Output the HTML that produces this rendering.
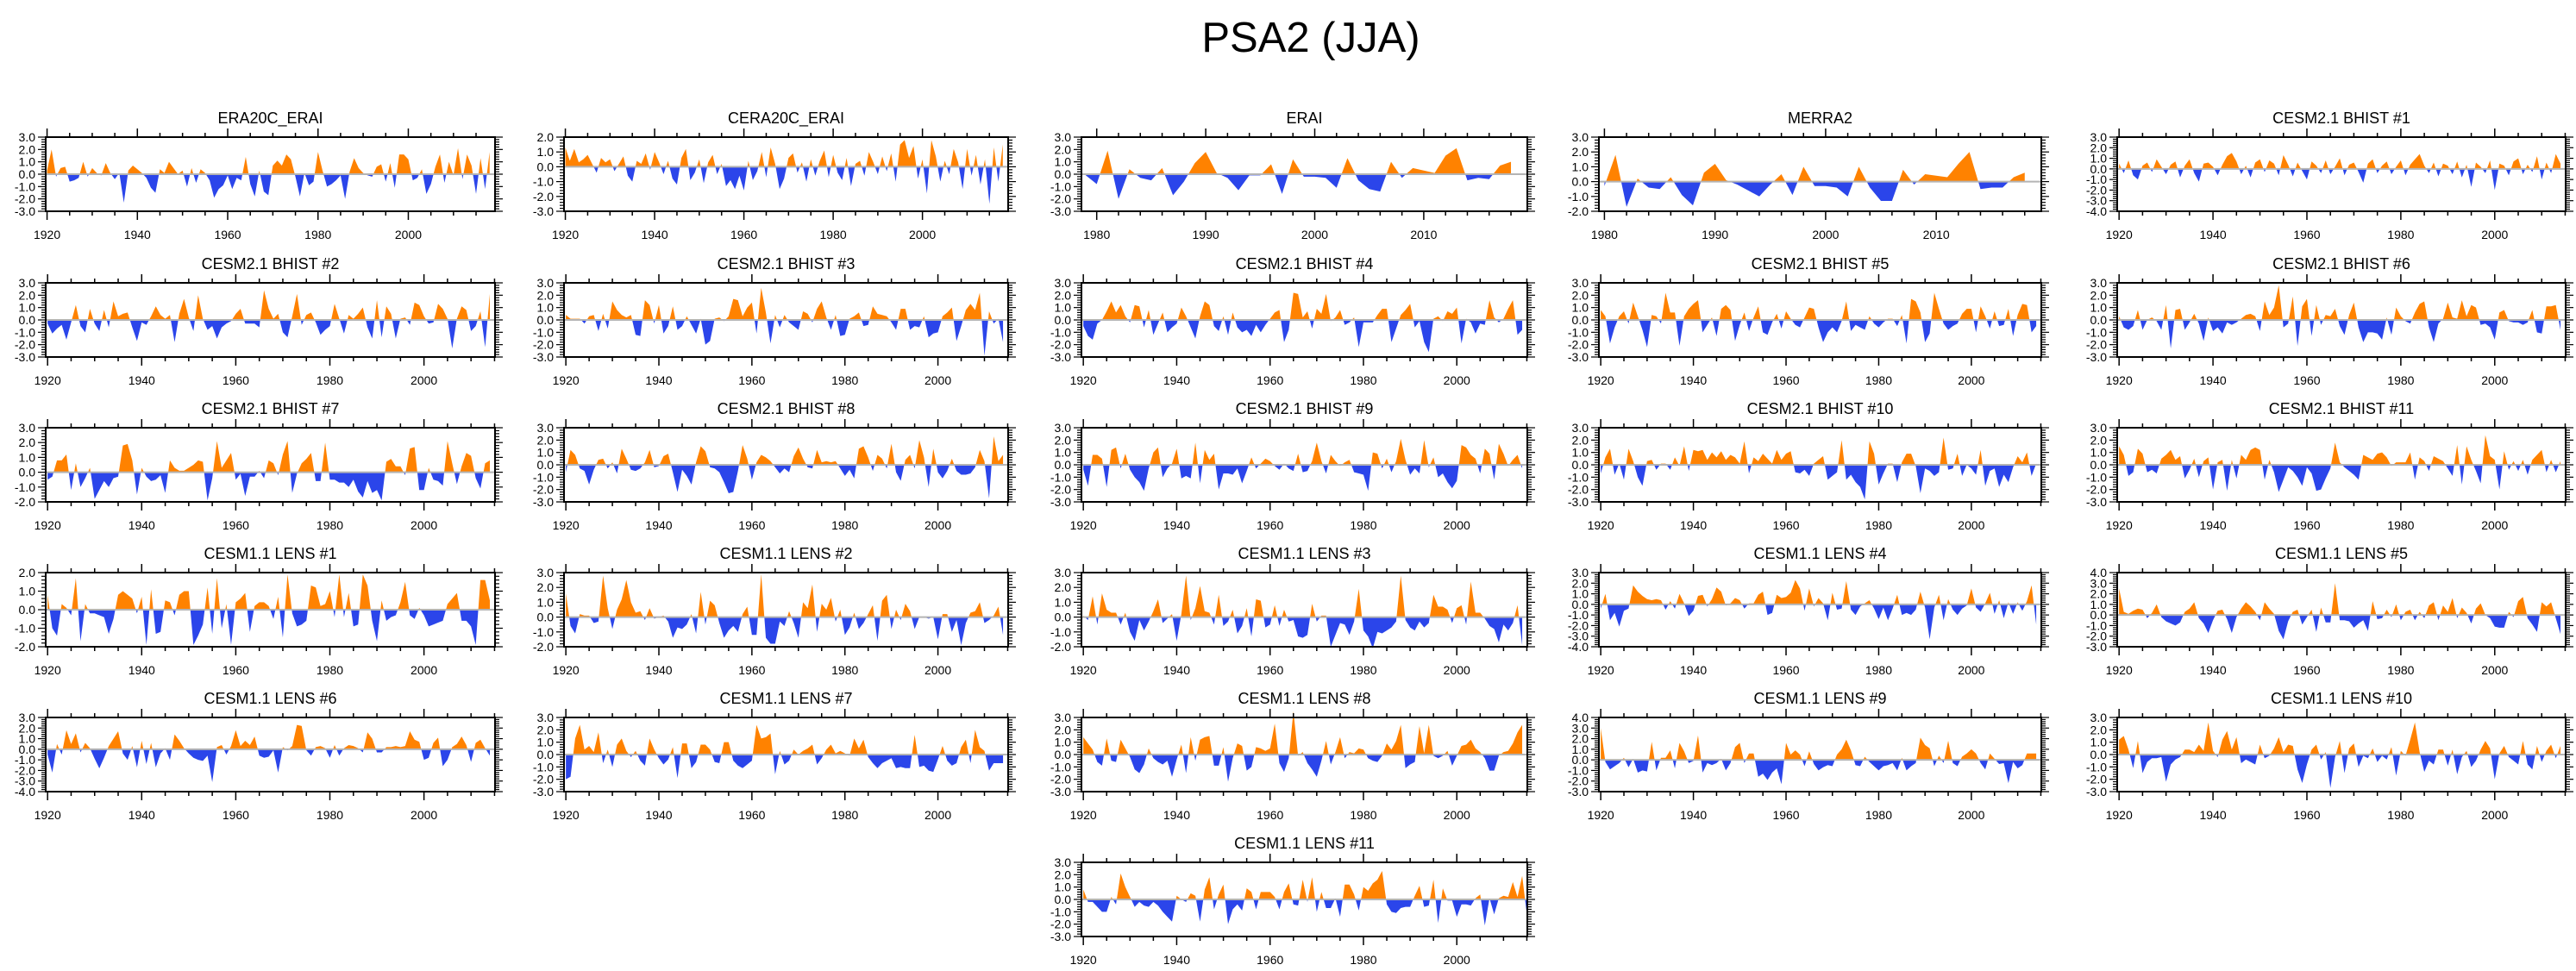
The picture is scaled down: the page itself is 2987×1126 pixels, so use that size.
<!DOCTYPE html>
<html><head><meta charset="utf-8"><title>PSA2 (JJA)</title>
<style>
html,body{margin:0;padding:0;background:#fff;}
svg{display:block;font-family:"Liberation Sans",Arial,sans-serif;}
</style></head>
<body>
<svg id="fig" width="2987" height="1126" viewBox="0 0 2987 1126" xmlns="http://www.w3.org/2000/svg">
<rect x="0" y="0" width="2987" height="1126" fill="#ffffff"/>
<text x="1520" y="60" font-size="49" text-anchor="middle" fill="#000">PSA2 (JJA)</text>
</svg>
<script>
// ---------- data ----------
const panelTitles = ["ERA20C_ERAI","CERA20C_ERAI","ERAI","MERRA2","CESM2.1 BHIST #1",
"CESM2.1 BHIST #2","CESM2.1 BHIST #3","CESM2.1 BHIST #4","CESM2.1 BHIST #5","CESM2.1 BHIST #6",
"CESM2.1 BHIST #7","CESM2.1 BHIST #8","CESM2.1 BHIST #9","CESM2.1 BHIST #10","CESM2.1 BHIST #11",
"CESM1.1 LENS #1","CESM1.1 LENS #2","CESM1.1 LENS #3","CESM1.1 LENS #4","CESM1.1 LENS #5",
"CESM1.1 LENS #6","CESM1.1 LENS #7","CESM1.1 LENS #8","CESM1.1 LENS #9","CESM1.1 LENS #10",
"CESM1.1 LENS #11"];
const startYears = [1920,1920,1979,1980,1920, 1920,1920,1920,1920,1920, 1920,1920,1920,1920,1920, 1920,1920,1920,1920,1920, 1920,1920,1920,1920,1920, 1920];
const yMins = [-3,-3,-3,-2,-4, -3,-3,-3,-3,-3, -2,-3,-3,-3,-3, -2,-2,-2,-4,-3, -4,-3,-3,-3,-3, -3];
const yMaxs = [3,2,3,3,3, 3,3,3,3,3, 3,3,3,3,3, 2,3,3,3,4, 3,3,3,4,3, 3];
const xMins = [1919.7,1919.7,1978.6,1979.5,1919.6, 1919.6,1919.6,1919.6,1919.6,1919.6, 1919.6,1919.6,1919.6,1919.6,1919.6, 1919.6,1919.6,1919.6,1919.6,1919.6, 1919.6,1919.6,1919.6,1919.6,1919.6, 1919.6];
const xMaxs = [2019.2,2019.2,2019.5,2019.5,2015.1, 2015.1,2015.1,2015.1,2015.1,2015.1, 2015.1,2015.1,2015.1,2015.1,2015.1, 2015.1,2015.1,2015.1,2015.1,2015.1, 2015.1,2015.1,2015.1,2015.1,2015.1, 2015.1];

const era20c = [0.3,2.0,-0.2,0.5,0.6,-0.6,-0.5,-0.3,1.0,-0.2, 0.5,0.1,-0.1,0.9,0.1,-0.4,0.1,-2.3,0.3,0.7, 0.4,0.1,-0.3,-1.1,-1.5,0.4,0.1,1.0,0.5,0.0, 0.3,-1.0,0.5,-0.7,0.4,0.1,-0.5,-1.9,-1.2,-0.9, -0.1,-1.2,-0.3,-0.5,1.4,-0.8,-1.8,0.3,-1.4,-1.7, 0.7,1.1,0.7,1.6,1.2,-0.2,-1.8,0.1,-0.9,-0.6, 1.8,0.3,-1.0,-0.8,-0.5,-0.1,-2.0,0.2,1.3,0.5, 0.1,-0.1,-0.2,0.6,0.8,-0.6,0.9,-1.1,1.6,1.6, 1.2,-0.5,-0.3,0.4,-1.6,-0.8,0.6,1.6,-0.7,1.0, -0.1,2.1,-0.4,1.6,0.7,-1.6,1.3,-1.2,1.8];
const cera20c = [1.3,0.4,1.2,0.3,0.5,0.8,0.2,-0.4,0.6,0.3, 0.5,-0.3,0.2,0.7,-0.6,-1.0,0.4,0.2,0.9,-0.2, 1.0,0.3,-0.5,0.4,-0.8,-1.2,0.6,1.2,-0.9,-0.4, 0.5,-1.1,0.3,0.8,-0.5,0.2,-1.3,-0.9,-1.5,-0.6, -1.6,0.4,-0.9,-0.3,1.0,-0.7,1.3,0.2,-1.5,-0.8, 0.6,0.9,-0.4,0.3,-1.0,0.5,-0.6,0.4,1.1,-0.7, 0.8,-0.4,-0.9,0.6,-1.3,0.2,0.4,-0.6,1.0,0.3, -0.5,0.7,-0.3,0.9,-1.0,1.5,1.8,0.6,1.4,-0.8, 0.5,-1.8,1.8,0.7,-1.0,0.4,-0.5,1.2,0.3,-1.5, 1.2,-0.6,0.8,-1.2,0.5,-2.5,1.3,-1.0,1.5];
const erai = [-0.1,-0.8,1.9,-2.0,0.4,-0.3,-0.5,0.5,-1.7,-0.6, 0.9,1.8,0.1,-0.3,-1.3,-0.1,-0.1,0.8,-1.6,1.2, -0.2,-0.2,-0.3,-1.1,1.3,-0.5,-1.2,-1.4,1.0,-0.3, 0.5,0.3,0.1,1.5,2.1,-0.5,-0.3,-0.4,0.7,1.0];
const merra2 = [-0.3,1.8,-1.7,0.2,-0.4,-0.5,0.3,-0.9,-1.6,0.6, 1.2,0.1,-0.2,-0.6,-1.0,-0.2,0.5,-0.9,1.0,-0.3, -0.3,-0.4,-1.0,1.0,-0.4,-1.3,-1.3,0.8,-0.2,0.5, 0.4,0.3,1.2,2.0,-0.5,-0.4,-0.4,0.3,0.6];
const bhist1 = [0.5,-0.4,0.8,-0.6,-1.0,0.3,0.6,-0.3,0.9,0.2, -0.5,0.4,0.7,-0.8,0.3,0.9,-0.4,-1.2,0.5,0.6, 0.2,-0.6,0.4,1.2,1.5,0.7,-0.5,0.3,-0.8,0.6, 0.9,-0.3,0.8,0.5,-0.6,1.3,0.4,-0.7,0.6,-0.2, -1.0,0.7,0.3,-0.4,0.8,-0.5,0.2,1.0,-0.6,0.4, 0.6,-0.3,-1.3,0.5,0.9,-0.4,0.3,0.7,-0.5,0.2, 0.8,-0.6,0.4,0.9,1.4,0.3,-0.4,0.6,-0.7,0.5, 0.3,-0.5,0.7,-0.8,0.4,-1.7,0.6,0.2,-0.4,0.8, -2.0,0.5,0.3,-0.6,0.7,1.0,-0.5,0.4,-0.3,1.2, -1.0,0.6,-0.4,1.4,0.5];
const bhist2 = [-0.3,-1.1,-0.7,-0.4,-1.6,-0.2,1.2,-0.5,-1.0,0.9, -0.3,-0.9,0.8,-0.6,1.5,0.3,0.5,0.6,-0.6,-1.7, -0.2,-0.4,0.3,1.1,0.4,0.1,0.4,-1.8,0.5,1.7, 0.2,-0.9,2.0,0.1,-0.8,-0.5,-1.5,-0.6,-0.3,-0.1, 0.5,0.9,-0.3,-0.3,-0.3,-0.6,2.4,0.9,0.1,0.5, -1.0,-1.4,0.3,2.1,-0.4,0.4,0.6,-0.2,-1.2,-0.8, -0.5,1.3,0.1,-1.1,0.4,0.1,0.5,1.0,-0.6,-1.5, 1.6,-1.4,1.1,0.5,-1.5,0.1,0.2,-0.4,1.4,1.2, 0.3,-0.3,-0.2,1.3,0.9,0.1,-2.3,0.1,1.1,0.8, -0.9,-0.5,0.7,-2.2,2.1];
const bhist3 = [0.4,0.1,0.1,0.1,-0.3,0.3,0.4,-0.9,0.5,-0.7, 1.5,0.8,0.4,0.2,0.4,-1.2,-1.3,1.6,1.2,-0.3, 1.2,-1.1,-0.5,1.1,-0.8,-0.5,0.3,-0.4,-1.1,0.1, -2.0,-1.7,0.1,0.2,-0.1,0.3,1.7,1.6,0.3,1.0, 1.4,-1.1,2.6,0.6,-1.9,0.4,-0.6,0.4,-0.2,-0.5, -0.8,0.7,0.5,-0.2,0.9,1.5,0.2,-0.8,0.4,-1.3, -1.2,0.1,0.3,0.6,-0.5,-0.4,1.1,0.5,0.4,0.3, -0.2,-0.8,0.9,0.9,-0.8,-0.5,-0.6,0.3,-1.4,-1.1, -1.0,0.3,0.6,1.0,-1.7,-0.5,0.8,1.3,0.8,2.2, -2.9,0.7,-0.3,0.1,-1.8];
const bhist4 = [-0.5,-1.3,-1.6,-0.3,0.0,0.7,1.5,0.6,1.2,0.3, -0.2,1.2,1.1,-0.6,0.8,-1.2,-0.3,0.6,-1.0,-0.6, -0.3,1.0,0.3,-0.6,-1.5,0.3,1.5,1.2,-0.5,-0.9, 0.3,-1.2,0.6,-0.6,-1.0,-0.8,-1.3,-0.4,-1.0,-0.4, 0.1,0.6,0.8,-1.8,-0.8,2.2,2.1,0.2,0.7,-0.7, 0.9,0.5,2.1,-0.1,0.2,0.8,-0.4,-0.2,0.2,-2.2, -0.2,-0.2,-0.2,0.4,0.9,0.9,-1.8,-0.7,0.4,0.8, 1.3,-0.6,-0.1,-1.8,-2.6,0.1,0.3,-0.1,0.7,0.5, 1.0,-1.9,0.1,-0.2,-1.1,-0.3,-0.4,1.6,0.2,-0.2, 0.1,0.9,1.6,-1.2,-0.8];
const bhist5 = [0.8,0.3,-1.9,-0.6,0.3,0.7,-0.3,1.4,0.3,-0.8, -2.2,0.4,0.3,-0.3,2.2,0.6,0.6,-2.1,0.3,0.9, 1.3,1.6,-1.0,-0.4,0.2,-1.3,0.9,1.2,0.8,-1.7, -0.4,0.6,-0.9,0.2,1.1,-1.0,-1.2,-0.2,0.5,-0.7, 0.7,0.1,-0.4,-0.6,0.2,1.0,0.9,-0.6,-1.8,-1.0, -0.6,-1.0,-0.1,1.5,-0.9,-0.4,-0.6,-0.8,0.3,-0.3, -0.6,-0.2,0.1,0.1,-0.5,0.4,-1.9,1.7,1.5,0.6, -1.8,-1.1,2.2,0.9,-0.3,-0.8,-0.5,-0.3,0.5,0.9, 0.9,-1.0,1.1,0.3,-0.7,0.7,-0.5,-0.4,0.9,-1.3, 0.4,1.3,1.2,-1.0,-0.5];
const bhist6 = [0.3,-0.6,-0.8,-0.5,0.8,-0.8,0.0,0.2,-0.1,-0.8, 1.2,-2.3,0.8,0.9,-0.8,-0.2,0.5,-0.3,-1.7,0.2, -0.9,-0.6,-1.1,-0.2,-0.4,-0.2,0.1,0.4,0.5,0.3, -0.9,1.5,0.4,1.0,2.8,-0.6,-0.3,1.9,-2.1,1.1, 1.7,-1.3,1.2,-0.4,0.4,0.3,0.9,-0.5,-1.2,0.4, 1.4,-0.6,-1.8,-1.0,-1.0,-1.1,-1.6,0.2,-1.2,1.0, 0.3,-0.1,-0.3,0.6,1.3,1.5,-0.6,-1.8,-0.3,0.1, 1.4,0.2,0.1,1.6,0.3,1.2,1.0,-0.4,-0.3,-0.6, -1.6,0.6,0.8,-0.1,-0.2,-0.2,-0.4,-0.2,0.8,-1.0, -1.1,1.1,1.1,1.2,-0.8];
const bhist7 = [-0.5,-0.3,0.8,0.8,1.2,-1.2,0.6,-1.0,-0.4,0.3, -1.8,-1.2,-0.6,-1.0,-0.4,-0.3,1.8,1.9,0.8,-1.5, 0.3,-0.3,-0.6,-0.5,-0.2,-1.4,0.8,0.3,0.1,0.1, 0.3,0.5,0.8,0.7,-1.9,-0.4,2.1,0.3,0.8,1.3, -0.5,-0.1,-1.6,-0.3,-0.3,0.1,-0.4,0.8,0.6,-0.2, 1.2,2.1,-1.4,-0.1,0.6,0.9,1.3,-0.6,-0.6,2.0, -0.5,-0.5,-0.7,-0.7,-1.0,-0.5,-1.3,-1.7,-0.6,-1.4, -1.2,-1.9,0.7,0.9,0.4,0.4,-0.2,1.6,1.7,-1.2, -1.2,0.3,-0.5,-0.6,-0.9,2.1,0.6,-0.8,0.4,1.3, 1.1,-0.4,-1.1,0.6,0.8];
const bhist8 = [-0.6,1.2,0.8,-0.3,-0.5,-1.6,-0.4,0.4,0.5,-0.3, 0.2,-0.7,1.3,0.5,-0.4,-0.5,-0.3,0.2,1.2,-0.2, -0.1,0.7,0.9,-0.6,-2.2,-0.4,-0.9,-1.6,0.2,1.5, 1.1,-0.2,-0.3,-0.6,-1.4,-2.3,-2.2,-0.5,1.6,0.5, -1.2,0.2,0.8,0.6,0.3,-0.2,-0.7,-0.3,-0.6,0.7, 1.4,0.5,-0.2,-0.3,1.2,0.2,0.3,0.2,0.3,-0.3, -0.9,-0.4,-1.1,1.3,1.5,0.6,-0.5,0.8,0.5,-0.3, 1.7,-0.6,-1.3,0.4,0.8,-0.3,2.0,0.6,-1.8,1.3, -0.6,-1.1,-0.5,0.5,-0.5,-0.8,-0.8,-0.7,-0.2,1.2, 0.3,-2.7,2.3,0.3,0.8];
const bhist9 = [-0.4,-1.7,0.8,0.8,0.5,-1.8,1.2,1.4,-0.3,0.9, -0.4,-1.0,-1.4,-2.1,-0.3,1.0,1.4,-1.0,-0.3,0.1, 1.3,-1.1,-0.9,-1.1,1.8,-1.5,1.2,0.4,0.9,-2.0, -0.7,-0.7,-0.8,-0.3,-1.5,-0.5,0.6,-0.3,0.1,0.5, 0.3,-0.1,-0.4,0.1,-0.3,-0.5,0.9,-0.6,-0.5,0.3, 1.8,0.3,-0.7,0.8,0.3,-0.1,0.2,0.4,-0.6,-0.7, -0.8,-2.1,1.0,0.9,-0.3,0.5,-0.6,0.3,2.1,0.4, -0.8,-0.3,-0.7,2.0,-0.2,0.6,-1.0,-0.7,-1.4,-1.9, -1.3,1.6,1.4,0.8,0.5,-0.7,1.3,0.9,-1.2,1.7, 0.9,-0.1,0.4,0.8,-0.3];
const bhist10 = [-0.7,0.6,1.3,-0.8,0.1,-1.2,1.3,0.3,-1.0,-1.7, 0.3,0.4,-0.4,0.1,0.1,-0.4,0.6,-0.1,1.5,-0.5, 1.2,1.1,1.2,0.4,1.0,0.6,1.1,0.4,0.8,0.6, 0.1,1.9,-0.7,0.6,0.3,0.9,0.5,0.1,1.2,0.4, 0.9,1.1,-0.6,-0.7,-0.4,-0.9,0.1,0.4,0.7,-1.2, -0.9,-0.6,2.0,-1.2,-0.8,-1.4,-1.8,-2.8,1.9,0.9, -1.6,-0.7,0.1,0.1,-1.4,0.2,0.9,0.9,-0.1,-2.3, -0.3,-0.5,-0.9,-0.6,2.2,-0.4,-0.3,0.9,-0.9,0.0, -0.3,-0.8,1.2,-1.7,-0.5,-0.3,-1.8,-0.8,-1.4,-0.2, 0.7,0.2,1.0,-0.9,0.1];
const bhist11 = [1.5,0.8,-0.9,-0.6,1.3,0.9,-0.6,-0.4,-0.7,0.5, 0.8,1.2,0.4,0.7,-1.1,-0.4,0.5,-1.0,0.3,0.6, -2.0,0.2,0.4,-2.1,0.4,-1.1,0.8,0.4,1.2,1.4, 1.2,-1.2,0.4,-0.6,-2.2,-1.2,-0.2,-0.5,-1.0,-1.7, -0.2,-0.7,-2.1,-2.0,-1.1,-0.3,1.8,0.2,-0.2,-0.5, -0.8,-1.2,0.8,0.6,0.4,0.9,1.0,0.6,-0.1,0.2, 0.2,0.2,1.0,-1.2,0.6,0.3,-0.5,0.7,0.5,0.3, -0.3,-0.9,1.6,-1.6,1.5,0.4,-0.5,-1.5,2.4,0.7, 0.4,-2.0,1.1,-0.4,0.3,-0.5,0.4,-0.8,0.4,0.8, 1.2,-0.6,0.4,-0.6,0.3];
const lens1 = [0.8,-1.0,-1.4,0.3,0.1,-0.3,1.7,-1.7,0.3,-0.2, -0.2,-0.3,-0.4,-1.3,-0.5,0.8,1.0,0.8,0.6,-0.2, 0.7,-1.9,1.1,-1.3,-1.2,0.5,0.4,-0.3,0.8,1.0, 1.0,-1.9,-1.4,-0.8,1.2,-1.3,1.7,-1.0,0.3,-1.9, 0.4,0.6,0.9,-1.2,0.2,0.4,0.4,0.2,-0.5,0.7, -1.5,1.9,-0.2,-0.9,-0.8,-0.6,1.3,1.2,0.2,0.3, 1.0,-0.4,1.9,-0.4,0.9,-0.9,-0.8,1.9,1.3,-0.6, -1.7,0.5,-0.6,-0.4,-0.3,0.4,1.5,-0.3,-0.5,0.1, -0.3,-0.9,-0.8,-0.7,-0.6,0.3,0.6,0.9,-0.6,-0.6, -0.9,-1.9,1.6,1.6,0.5];
const lens2 = [1.6,-0.6,-1.1,0.2,0.1,0.1,-0.4,-0.3,2.8,0.6, -0.8,0.5,1.2,2.5,1.0,0.3,0.4,-0.2,0.6,-0.1, 0.0,0.1,-0.3,-1.4,-0.7,-0.8,-0.5,0.2,-1.1,1.7, -0.5,1.1,0.8,-0.4,-1.4,-0.9,-0.6,-1.0,0.2,0.7, -1.2,-1.2,2.9,-1.4,-1.8,-1.8,-0.3,-0.6,0.4,-0.4, -1.4,1.0,0.6,2.2,-1.0,0.9,0.5,1.3,-0.3,0.5, -1.2,-0.7,0.3,-0.8,-0.4,0.2,0.8,-1.6,1.1,1.5, -0.8,0.5,-0.2,0.9,0.4,-0.8,0.0,0.0,-0.1,0.0, -1.5,0.2,0.2,-1.0,-0.2,-1.9,-0.4,0.3,0.4,1.0, -0.4,-0.2,0.1,0.7,-1.2];
const lens3 = [0.1,-0.2,1.4,-0.5,1.6,0.5,0.3,0.3,-0.5,0.3, -1.0,-1.6,-0.2,-0.9,-0.3,0.4,1.2,-0.4,-0.1,0.2, -1.6,0.2,2.8,-0.2,0.6,2.1,0.4,0.3,-0.5,1.5, -0.6,-0.3,0.5,-1.1,-0.6,0.6,-1.3,1.2,1.1,-0.7, -0.5,0.8,-0.6,0.5,-0.3,-0.2,-1.3,-1.4,-1.2,0.9, -0.3,0.1,0.1,-2.0,-1.2,-0.4,-0.5,-1.2,-0.3,1.9, -0.9,-1.3,-2.1,-1.0,-1.1,-0.9,-0.7,-0.3,2.8,-0.2, -0.7,-0.9,-0.3,-0.7,-0.4,1.5,0.7,0.7,0.5,-0.4, 0.6,0.8,-0.5,2.4,0.3,0.3,-0.1,-0.6,-0.8,-1.7, -0.5,-0.9,-0.4,0.8,-1.9];
const lens4 = [-0.4,1.0,-1.5,-0.8,-2.1,-0.6,-0.4,1.8,1.2,0.8, 0.5,0.4,0.5,0.4,-0.5,0.3,-0.4,1.0,0.1,-1.1, -0.6,0.8,0.9,-0.2,0.5,1.6,1.2,-0.1,0.1,0.6, 0.4,-0.4,0.1,0.1,0.9,1.2,-1.0,-0.8,0.9,0.6, 0.7,1.1,2.3,1.5,-0.6,1.5,-0.2,0.6,0.1,-1.5, 1.1,-0.5,-0.4,2.2,-0.5,-1.0,-0.2,0.1,0.4,-0.4, -1.4,-0.3,-1.5,-0.4,0.9,-1.0,-0.8,-1.0,-0.5,1.2, -0.3,-3.3,-0.3,0.9,-1.5,0.5,-0.5,-1.0,-0.4,-0.1, 1.5,-0.3,-0.7,0.1,1.1,-0.9,0.4,-1.3,0.2,-0.9, 0.2,-0.6,0.3,1.8,-1.9];
const lens5 = [2.5,0.3,0.1,0.4,0.6,0.5,-0.3,0.2,1.0,-0.2, -0.6,-0.8,-1.0,-0.7,0.3,0.6,1.2,-0.3,-0.8,-1.7, -0.5,0.4,0.5,-0.4,-1.7,-0.2,0.6,1.2,0.8,0.3, -0.5,1.2,0.6,0.1,-1.5,-2.3,-0.6,0.3,0.5,-0.9, -0.2,0.5,-1.6,0.7,-0.7,-0.7,3.0,-0.5,-0.5,-0.6, -1.2,-0.8,-0.5,-1.5,1.3,-0.4,-0.3,0.5,-0.2,1.0, -0.5,0.3,0.5,-0.5,0.3,-0.3,0.9,1.2,-0.5,0.9, 0.3,1.6,-0.3,0.7,0.2,-0.8,0.6,1.1,0.0,-0.3, -1.1,-1.2,-1.2,0.3,-0.2,1.3,1.7,-0.3,-0.9,-1.6, 1.2,0.8,1.2,-0.3,-1.8];
const lens6 = [-0.5,-2.2,0.5,-0.5,1.8,0.5,1.5,-0.3,0.6,0.1, -0.9,-1.8,-0.8,0.3,1.0,1.7,-0.4,-1.0,0.3,-1.7, 0.8,-1.4,0.6,-1.7,-0.4,0.1,-1.0,1.4,0.8,0.1, -0.4,-0.8,-1.0,-1.1,-0.6,-3.1,0.2,0.4,-0.5,0.3, 1.8,0.3,0.8,0.4,1.2,-0.6,-0.8,-0.7,-0.1,-2.2, 0.2,-0.1,0.3,2.3,2.2,-0.1,-0.6,0.2,0.3,0.1, -0.8,0.4,-0.6,0.1,0.4,0.3,0.1,-0.3,1.6,1.0, -0.3,-0.3,0.2,0.2,0.3,0.2,0.3,1.7,0.9,0.7, -1.0,-0.8,0.6,1.1,-1.6,-1.0,0.2,0.5,1.2,0.4, -1.2,0.6,0.9,0.1,-0.6];
const lens7 = [-2.0,-1.8,1.3,2.4,0.4,0.7,0.2,1.8,-0.7,0.4, -1.0,0.8,1.3,0.3,-0.2,0.3,-0.5,-0.9,1.3,0.4, -0.3,-0.8,-0.4,0.6,-1.9,0.9,0.9,-1.1,-0.6,0.8, 0.8,0.4,-0.6,-0.7,1.0,1.0,-0.5,-0.9,-1.1,-0.8, -0.5,2.4,1.3,1.4,1.7,-1.6,0.3,-0.8,-0.5,0.4, 0.0,0.3,0.5,0.8,-0.8,-0.3,0.4,0.8,0.1,0.3, 0.1,-0.1,1.3,0.5,1.2,-0.2,-0.7,-1.1,-0.7,-0.5, -0.3,-1.1,-1.0,-1.1,-1.1,1.6,-1.0,-0.9,-1.3,-1.4, -0.4,0.7,-0.5,-0.9,-0.7,0.6,1.2,-0.7,2.0,0.6, 0.3,-1.3,-0.7,-0.7,-0.7];
const lens8 = [1.4,0.9,0.4,-0.6,-0.9,1.3,-0.5,-0.6,1.2,0.5, -0.2,-1.2,-1.5,-0.8,0.5,-0.3,-0.6,-0.8,-0.5,-1.8, -0.4,0.8,-1.5,1.4,-0.5,1.2,1.4,1.5,-0.9,-0.9, 0.6,-2.2,-0.3,0.9,0.7,-1.3,-1.0,0.6,0.5,0.3, 0.5,2.5,-0.7,-1.4,-0.3,3.5,-0.1,0.2,-0.7,-1.2, -1.8,-0.5,1.1,-0.8,0.2,1.4,-0.3,0.2,0.1,0.5, 0.4,-0.3,-0.5,-0.6,-0.1,0.9,0.4,1.1,2.4,-1.1, -0.8,-0.6,2.3,0.1,2.4,-0.1,-0.3,-0.1,0.3,-0.9, -0.1,0.7,0.8,1.2,0.5,0.2,-0.3,-1.3,-1.3,-0.1, 0.2,0.3,0.9,1.8,2.4];
const lens9 = [3.0,-0.2,-0.9,-0.6,-0.3,0.2,-0.7,0.1,-1.2,-1.0, -1.1,1.7,-1.0,0.2,0.2,0.9,-0.8,1.6,0.8,-0.3, -0.1,2.3,-1.2,-0.3,-0.5,-0.3,0.1,-1.0,-0.3,1.2, 1.6,-0.3,0.6,0.6,-1.6,-1.3,-1.9,-1.2,-0.8,-2.3, 1.6,0.5,0.9,0.5,-0.6,0.8,-0.4,-1.0,-0.7,-0.5, -0.6,0.5,1.0,1.9,0.9,-0.5,-0.6,0.3,-0.2,-0.6, -1.0,-0.6,-0.5,-0.3,-1.0,0.2,-1.0,-0.6,-0.3,2.1, 1.4,1.1,-0.6,0.4,-0.3,1.8,-0.3,-0.6,0.3,0.6, 1.0,0.6,-0.3,-0.9,0.6,0.1,-0.4,-0.3,-2.2,-0.2, -0.8,-0.5,0.6,0.6,0.6];
const lens10 = [1.2,1.5,0.4,-1.1,1.1,-1.5,-0.6,-0.3,-0.3,-0.2, -2.2,-0.8,-0.4,-0.2,0.4,0.4,0.2,0.8,0.3,2.6, 0.3,-0.2,1.2,1.9,0.4,1.4,-0.7,-0.4,-0.6,-0.8, 0.8,-0.3,-0.1,0.5,1.4,0.2,0.8,0.7,-1.2,-2.3, -0.8,0.4,0.8,-0.4,0.2,-2.7,-0.2,1.1,-1.5,0.5, 0.9,-1.0,-0.1,-0.3,0.5,-0.6,-0.1,-0.4,0.6,-1.7, 0.3,-0.1,1.2,2.6,0.2,-1.4,-0.5,-0.8,0.4,0.4, -0.9,0.4,-1.6,-0.2,0.3,-1.0,-0.5,0.4,1.1,0.5, -2.0,0.1,0.7,-0.2,-0.5,-0.8,1.1,-0.8,-1.2,0.7, -0.6,0.3,0.8,-0.3,0.7];
const lens11 = [0.8,-0.2,-0.2,-0.6,-1.0,-1.0,0.2,-0.4,2.1,1.0, 0.2,-0.6,-0.2,-0.5,-0.6,-0.2,-0.5,-1.0,-1.4,-1.8, 0.3,0.0,-0.2,0.5,0.3,-1.8,0.8,1.8,-0.8,0.4, 1.2,-2.0,-0.8,-0.4,-0.9,0.9,0.6,-0.8,0.6,0.6, 0.6,0.2,-0.8,0.6,1.3,-0.4,-0.5,1.6,-0.2,1.8, -1.0,0.6,-0.7,-0.7,0.1,-1.4,1.2,1.2,0.4,-0.9, 1.0,0.7,1.3,1.6,2.3,-0.4,-1.0,-1.1,-0.7,-0.6, -0.6,0.3,1.1,-0.6,-0.5,1.6,-1.9,0.9,-0.1,-0.1, -1.4,-0.4,-0.4,-0.5,0.1,0.4,-2.1,0.1,-1.2,0.1, 0.3,0.2,1.4,0.2,1.9,-1.2];

const seriesList = [era20c,cera20c,erai,merra2,bhist1, bhist2,bhist3,bhist4,bhist5,bhist6, bhist7,bhist8,bhist9,bhist10,bhist11, lens1,lens2,lens3,lens4,lens5, lens6,lens7,lens8,lens9,lens10, lens11];

// ---------- layout ----------
const colLeft = [53,654,1254,1854,2455];
const colRight = [574,1169,1771,2367,2975];
const rowTop = [159,328,496,664,832,1000];
const boxH = 86;
const POS = "#ff8200", NEG = "#2b45ea";

const NS = "http://www.w3.org/2000/svg";
const svg = document.getElementById("fig");
function mk(tag, attrs, parent){
  const e = document.createElementNS(NS, tag);
  for (const k in attrs) e.setAttribute(k, attrs[k]);
  parent.appendChild(e);
  return e;
}
function slug(s){ return s.toLowerCase().replace(/[^a-z0-9]+/g,'-').replace(/^-|-$/g,''); }
function fmt(v){ return (v<0?"-":"") + Math.abs(v).toFixed(1); }

for (let p = 0; p < panelTitles.length; p++) {
  const row = p < 25 ? Math.floor(p/5) : 5;
  const col = p < 25 ? p % 5 : 2;
  const L = colLeft[col], R = colRight[col], T = rowTop[row], B = T + boxH;
  const xlo = xMins[p], xhi = xMaxs[p], ylo = yMins[p], yhi = yMaxs[p];
  const xs = v => L + (v - xlo) / (xhi - xlo) * (R - L);
  const ys = v => B - (v - ylo) / (yhi - ylo) * (B - T);
  const vals = seriesList[p];
  const y0 = startYears[p];
  const name = slug(panelTitles[p]);

  const g = mk("g", {}, svg);
  
  

  const pts = [];
  for (let i = 0; i < vals.length; i++) {
    const x = y0 + i, v = vals[i];
    pts.push([x, v]);
    if (i < vals.length - 1) {
      const vn = vals[i+1];
      if ((v > 0 && vn < 0) || (v < 0 && vn > 0)) pts.push([x + v / (v - vn), 0]);
    }
  }
  function areaPath(fn){
    let d = "M" + xs(pts[0][0]).toFixed(2) + "," + ys(0).toFixed(2);
    for (const q of pts) d += "L" + xs(q[0]).toFixed(2) + "," + ys(fn(q[1])).toFixed(2);
    d += "L" + xs(pts[pts.length-1][0]).toFixed(2) + "," + ys(0).toFixed(2) + "Z";
    return d;
  }
  const posA = mk("path", {d: areaPath(v => Math.max(v,0)), fill: POS, stroke: "none"}, g);
  
  
  const negA = mk("path", {d: areaPath(v => Math.min(v,0)), fill: NEG, stroke: "none"}, g);
  
  

  const zl = mk("line", {x1: L, x2: R, y1: ys(0), y2: ys(0), stroke: "#b4b4b4", "stroke-width": 2}, g);
  
  

  const box = mk("rect", {x: L, y: T, width: R - L, height: boxH, fill: "none", stroke: "#000", "stroke-width": 2}, g);
  
  

  const ticks = mk("g", {stroke: "#000", "stroke-width": 1.5}, g);
  
  
  const short = (xhi - xlo) < 60;
  const majStep = short ? 10 : 20, minStep = short ? 2 : 5;
  for (let yr = Math.ceil(xlo / minStep) * minStep; yr <= xhi; yr += minStep) {
    const x = xs(yr);
    const major = yr % majStep === 0;
    const len = major ? 10 : 5;
    mk("line", {x1: x, x2: x, y1: B, y2: B + len}, ticks);
    mk("line", {x1: x, x2: x, y1: T, y2: T - len}, ticks);
    if (major) {
      const t = mk("text", {x: x, y: B + 32, "font-size": 14, "text-anchor": "middle", fill: "#000", stroke: "none"}, g);
      t.textContent = String(yr);
      
      
    }
  }
  const yt = mk("g", {stroke: "#000", "stroke-width": 1.2}, g);
  
  
  for (let k = Math.round(ylo * 5); k <= Math.round(yhi * 5); k++) {
    const v = k / 5, y = ys(v);
    const major = k % 5 === 0;
    const len = major ? 9 : 5;
    mk("line", {x1: L - len, x2: L, y1: y, y2: y}, yt);
    mk("line", {x1: R, x2: R + len, y1: y, y2: y}, yt);
    if (major) {
      const t = mk("text", {x: L - 12, y: y + 5, "font-size": 14, "text-anchor": "end", fill: "#000", stroke: "none"}, g);
      t.textContent = fmt(v);
      
      
    }
  }
  const title = mk("text", {x: (L + R) / 2, y: T - 16, "font-size": 18, "text-anchor": "middle", fill: "#000"}, g);
  title.textContent = panelTitles[p];
  
  
}
</script>
</body></html>
